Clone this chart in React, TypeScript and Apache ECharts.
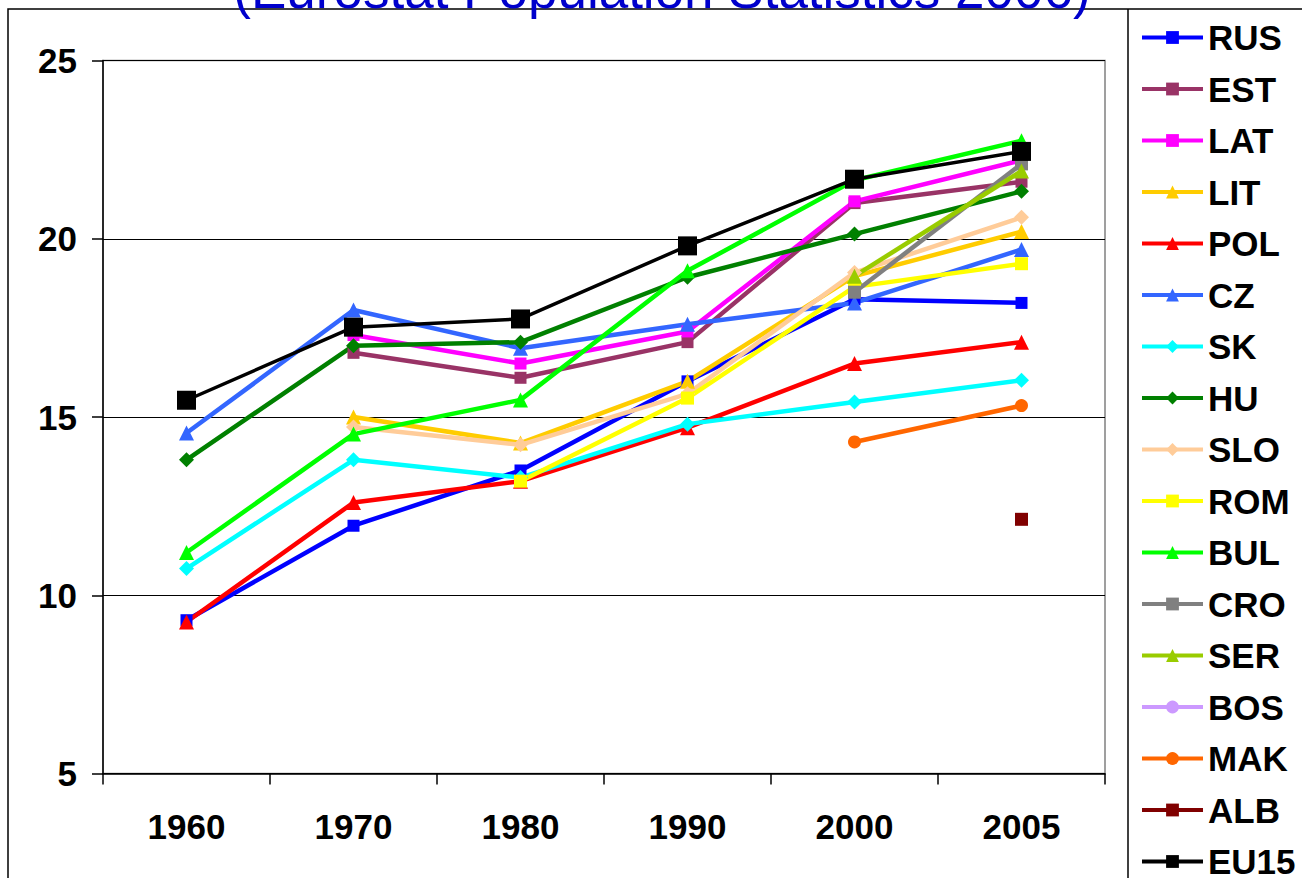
import React, { useEffect, useRef } from "react";
import * as echarts from "echarts";

const years = ["1960", "1970", "1980", "1990", "2000", "2005"];
const titleText = "(Eurostat Population Statistics 2006)";

const RUS = [9.3, 11.95, 13.5, 16.0, 18.3, 18.2];
const EST = [null, 16.8, 16.1, 17.1, 21.0, 21.6];
const LAT = [null, 17.3, 16.5, 17.4, 21.05, 22.2];
const LIT = [null, 15.0, 14.27, 16.0, 18.95, 20.2];
const POL = [9.25, 12.6, 13.2, 14.7, 16.5, 17.1];
const CZ = [14.55, 18.0, 16.93, 17.6, 18.2, 19.7];
const SK = [10.75, 13.8, 13.3, 14.8, 15.42, 16.03];
const HU = [13.8, 17.0, 17.1, 18.92, 20.13, 21.33];
const SLO = [null, 14.72, 14.22, 15.65, 19.05, 20.6];
const ROM = [null, null, 13.2, 15.53, 18.65, 19.3];
const BUL = [11.2, 14.52, 15.48, 19.1, 21.64, 22.75];
const CRO = [null, null, null, null, 18.5, 22.1];
const SER = [null, null, null, null, 18.95, 21.9];
const BOS = [null, null, null, null, null, null];
const MAK = [null, null, null, null, 14.3, 15.32];
const ALB = [null, null, null, null, null, 12.13];
const EU15 = [15.47, 17.52, 17.75, 19.8, 21.67, 22.45];

const seriesNames = ["RUS", "EST", "LAT", "LIT", "POL", "CZ", "SK", "HU", "SLO", "ROM", "BUL", "CRO", "SER", "BOS", "MAK", "ALB", "EU15"];
const seriesData = [RUS, EST, LAT, LIT, POL, CZ, SK, HU, SLO, ROM, BUL, CRO, SER, BOS, MAK, ALB, EU15];
const seriesColors = ["#0000FF", "#993366", "#FF00FF", "#FFCC00", "#FF0000", "#3366FF", "#00FFFF", "#008000", "#FFCC99", "#FFFF00", "#00FF00", "#808080", "#99CC00", "#CC99FF", "#FF6600", "#800000", "#000000"];
const seriesSymbols = ["rect", "rect", "rect", "triangle", "triangle", "triangle", "diamond", "diamond", "diamond", "rect", "triangle", "rect", "triangle", "circle", "circle", "rect", "rect"];
const seriesSymbolSizes = [12, 12, 12, 15, 15, 15, 15, 15, 15, 13, 15, 13, 15, 13, 13, 13, 19];

const FONT = "'Liberation Sans', Arial, sans-serif";

export default function App() {
  const ref = useRef<HTMLDivElement>(null);
  useEffect(() => {
    document.body.style.margin = "0";
    document.body.style.overflow = "hidden";
    const chart = echarts.init(ref.current!, null, { renderer: "svg" });
    const series = seriesNames.map((name, i) => ({
      name,
      type: "line",
      data: seriesData[i],
      symbol: seriesSymbols[i],
      symbolSize: seriesSymbolSizes[i],
      showSymbol: true,
      showAllSymbol: true,
      connectNulls: false,
      color: seriesColors[i],
      lineStyle: { width: name === "EU15" ? 3.5 : 4.5, color: seriesColors[i] },
      itemStyle: { color: seriesColors[i] },
      emphasis: { disabled: true },
    }));
    chart.setOption({
      animation: false,
      backgroundColor: "#ffffff",
      textStyle: { fontFamily: FONT },
      grid: {
        left: 103,
        top: 60.5,
        right: 197,
        bottom: 104.5,
        show: true,
        borderColor: "#808080",
        borderWidth: 1.5,
        backgroundColor: "transparent",
      },
      legend: {
        orient: "vertical",
        left: 1140,
        top: 20,
        height: 1000,
        itemWidth: 61,
        itemHeight: 16,
        itemGap: 16.5,
        padding: 0,
        selectedMode: false,
        data: seriesNames,
        lineStyle: { width: 4 },
        textStyle: { fontSize: 35, fontWeight: "bold", color: "#000", fontFamily: FONT },
      },
      xAxis: {
        type: "category",
        data: years,
        boundaryGap: true,
        axisLine: { lineStyle: { color: "#000", width: 1.5 } },
        axisTick: { show: true, length: 11, alignWithLabel: false, lineStyle: { color: "#000", width: 1.5 } },
        axisLabel: { fontSize: 35, fontWeight: "bold", color: "#000", margin: 35, fontFamily: FONT },
        splitLine: { show: false },
      },
      yAxis: {
        type: "value",
        min: 5,
        max: 25,
        interval: 5,
        axisLine: { show: true, lineStyle: { color: "#000", width: 1.5 } },
        axisTick: { show: true, length: 11, lineStyle: { color: "#000", width: 1.5 } },
        axisLabel: { fontSize: 35, fontWeight: "bold", color: "#000", margin: 26, fontFamily: FONT },
        splitLine: { show: true, lineStyle: { color: "#000", width: 1 } },
      },
      graphic: [
        {
          type: "rect",
          shape: { x: 8, y: 9, width: 1400, height: 1000 },
          style: { fill: "none", stroke: "#000", lineWidth: 1.5 },
          silent: true,
          z: -10,
        },
        {
          type: "line",
          shape: { x1: 1128, y1: 9, x2: 1128, y2: 900 },
          style: { stroke: "#000", lineWidth: 1.5 },
          silent: true,
        },
        {
          type: "text",
          x: 662,
          y: -11,
          style: {
            text: titleText,
            fontSize: 53,
            fontFamily: FONT,
            fill: "#0000CC",
            textAlign: "center",
            verticalAlign: "middle",
          },
          silent: true,
        },
      ],
      series,
    });
    return () => chart.dispose();
  }, []);
  return <div ref={ref} style={{ width: 1302, height: 878 }} />;
}
